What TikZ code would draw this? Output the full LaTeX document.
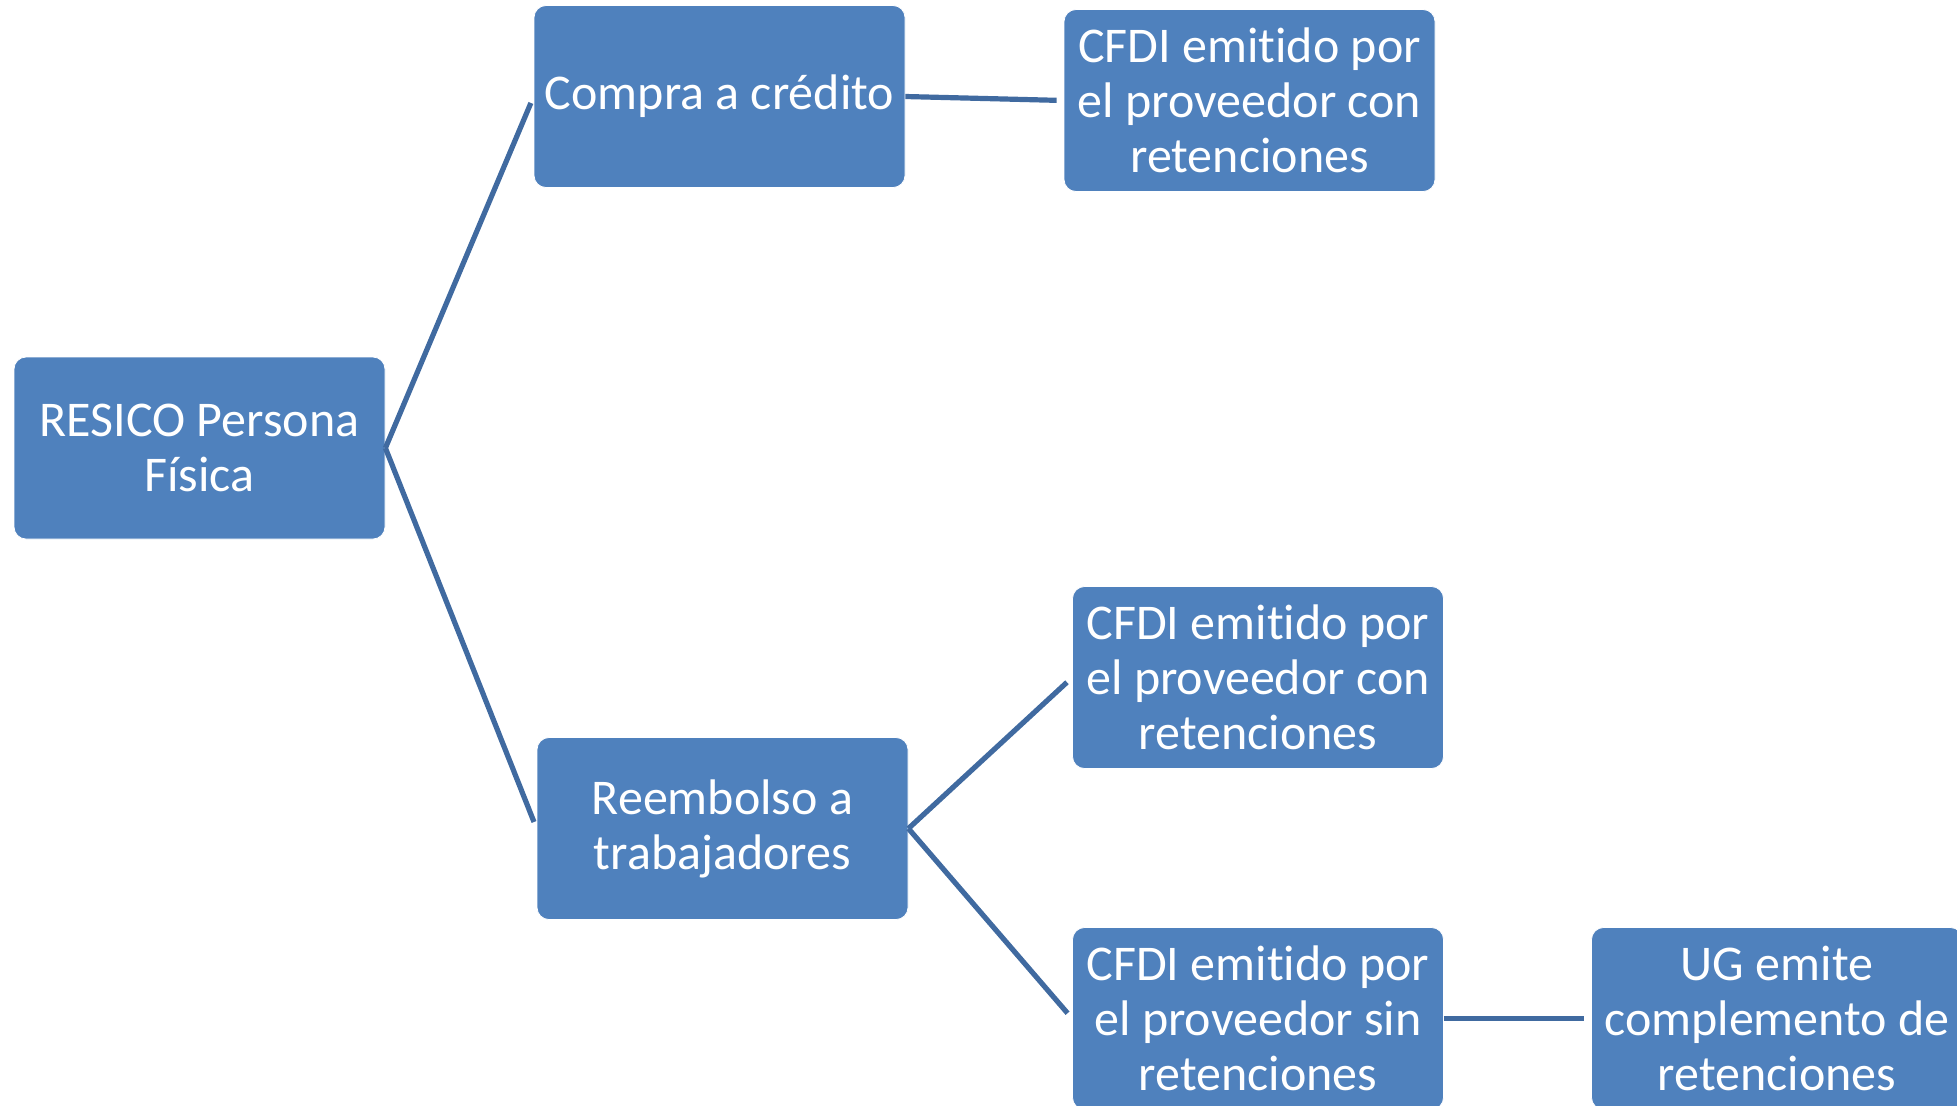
\documentclass[tikz,border=0pt]{standalone}
\usepackage{fontspec}
\setmainfont{Carlito}[Ligatures=NoCommon]
\definecolor{boxblue}{RGB}{79,129,189}
\definecolor{linkblue}{RGB}{64,106,160}

\tikzset{every picture/.style={line width=0.75pt}}
\tikzset{
  smartbox/.style={rounded corners=6pt, fill=boxblue, draw=white, line width=0.4pt,
    minimum width=185.5pt, minimum height=91pt, inner sep=2pt,
    text=white, align=center, font=\fontsize{25}{27.5}\selectfont},
  link/.style={draw=linkblue, line width=2.6pt, shorten >=3.5pt}
}

\begin{document}
\begin{tikzpicture}[x=0.5pt,y=0.5pt,yscale=-1,xscale=1]
\useasboundingbox (0,0) rectangle (1957,1105);
\clip (0,0) rectangle (1957,1105);

% Text Node
\node [smartbox] (root) at (199.5,448) {RESICO Persona\\Física};
% Text Node
\node [smartbox] (compra) at (719.5,96.5) {Compra a crédito};
% Text Node
\node [smartbox] (cfdia) at (1249.5,100.5) {CFDI emitido por\\el proveedor con\\retenciones};
% Text Node
\node [smartbox] (reemb) at (722.5,828.5) {Reembolso a\\trabajadores};
% Text Node
\node [smartbox] (cfdib) at (1258,677.5) {CFDI emitido por\\el proveedor con\\retenciones};
% Text Node
\node [smartbox] (cfdic) at (1258,1018.5) {CFDI emitido por\\el proveedor sin\\retenciones};
% Text Node
\node [smartbox] (ug) at (1777,1018.5) {UG emite\\complemento de\\retenciones};

%Straight Lines
\draw [link] (root.east) -- (compra.west);
\draw [link] (root.east) -- (reemb.west);
\draw [link] (compra.east) -- (cfdia.west);
\draw [link] (reemb.east) -- (cfdib.west);
\draw [link] (reemb.east) -- (cfdic.west);
\draw [link] (cfdic.east) -- (ug.west);

\end{tikzpicture}
\end{document}
